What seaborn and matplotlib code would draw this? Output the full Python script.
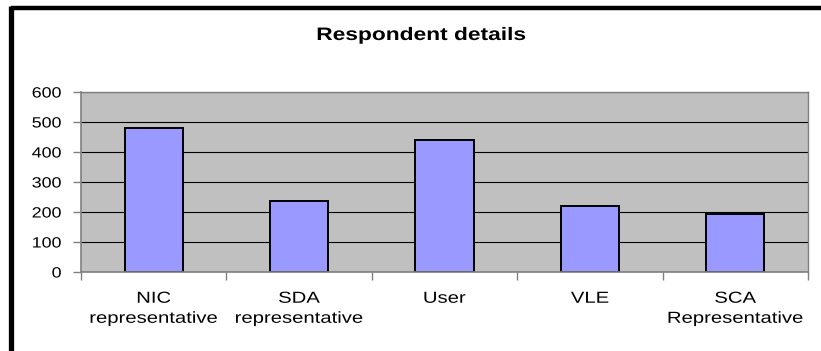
import matplotlib
matplotlib.use("Agg")
import matplotlib.pyplot as plt
from matplotlib.lines import Line2D
from matplotlib.patheffects import AbstractPathEffect
from matplotlib.transforms import Affine2D
import seaborn as sns
import pandas as pd
import numpy as np

categories = ["NIC\nrepresentative", "SDA\nrepresentative", "User", "VLE", "SCA\nRepresentative"]
respondents = [480, 238, 440, 220, 195]
y_ticks = [0, 100, 200, 300, 400, 500, 600]


class HStretch(AbstractPathEffect):
    """Widen glyphs horizontally about a chosen anchor of each text line."""

    def __init__(self, sx=1.2, anchor="center"):
        super().__init__()
        self.sx = sx
        self.anchor = anchor

    def draw_path(self, renderer, gc, tpath, affine, rgbFace=None):
        bb = tpath.get_extents(affine)
        if self.anchor == "right":
            x0 = bb.x1
        elif self.anchor == "left":
            x0 = bb.x0
        else:
            x0 = 0.5 * (bb.x0 + bb.x1)
        t = affine + Affine2D().translate(-x0, 0).scale(self.sx, 1.0).translate(x0, 0)
        renderer.draw_path(gc, tpath, t, rgbFace)


df = pd.DataFrame({"group": categories, "count": respondents})

sns.set_theme(style="white")
plt.rcParams["font.family"] = ["Liberation Sans", "DejaVu Sans"]

fig = plt.figure(figsize=(8.21, 3.51), dpi=100)
ax = fig.add_axes([81 / 821, 1 - 272 / 351, (808 - 81) / 821, (272 - 92) / 351])
ax.set_facecolor("#C0C0C0")

ax.yaxis.grid(True, color="black", linewidth=0.8)
ax.set_axisbelow(True)

sns.barplot(data=df, x="group", y="count", color="#9999FF", width=0.4,
            edgecolor="black", linewidth=1.4, saturation=1, ax=ax)

ax.set_ylim(0, 600)
ax.set_xlim(-0.5, len(categories) - 0.5)
ax.set_yticks(y_ticks)
ax.set_xlabel("")
ax.set_ylabel("")

for side in ["top", "right"]:
    ax.spines[side].set_color("#808080")
    ax.spines[side].set_linewidth(1.0)
for side in ["left", "bottom"]:
    ax.spines[side].set_color("#808080")
    ax.spines[side].set_linewidth(1.2)

ax.tick_params(axis="y", which="major", direction="out", length=6, width=1,
               color="#808080", labelsize=10.7, pad=8, left=True)
ax.tick_params(axis="x", which="major", length=0, labelsize=11.5, pad=13.5)
ax.set_xticks(np.arange(-0.5, len(categories), 1.0), minor=True)
ax.tick_params(axis="x", which="minor", direction="out", length=6, width=1,
               color="#808080", bottom=True)

for lbl in ax.get_yticklabels():
    lbl.set_color("black")
    lbl.set_path_effects([HStretch(1.2, "right")])
for lbl in ax.get_xticklabels():
    lbl.set_color("black")
    lbl.set_linespacing(1.42)
    lbl.set_path_effects([HStretch(1.27, "center")])

fig.text(421 / 821, 1 - 35.5 / 351, "Respondent details", ha="center", va="center",
         fontsize=13, fontweight="bold", color="black",
         path_effects=[HStretch(1.26, "center")])

# chart frame lines along the top and left edges
fig.add_artist(Line2D([10.5 / 821, 1.0], [1 - 8 / 351, 1 - 8 / 351],
                      transform=fig.transFigure, color="black", linewidth=3.2,
                      solid_capstyle="butt"))
fig.add_artist(Line2D([10.5 / 821, 10.5 / 821], [0, 1 - 8 / 351 + 2 / 351],
                      transform=fig.transFigure, color="black", linewidth=3.8,
                      solid_capstyle="butt"))

fig.savefig("out.png", dpi=100, facecolor="white")
